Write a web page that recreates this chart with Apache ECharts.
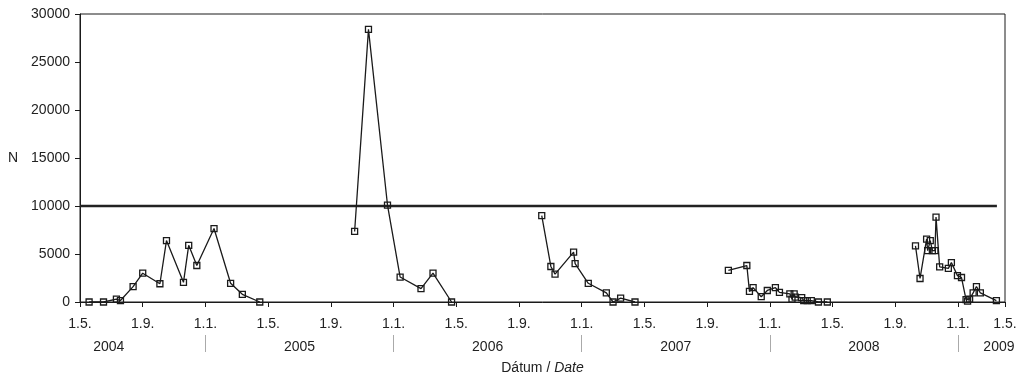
<!DOCTYPE html>
<html>
<head>
    <meta charset="utf-8">
    <script src="https://cdn.jsdelivr.net/npm/echarts@6/dist/echarts.min.js"></script>
</head>
<body style="margin:0;background:#fff;">
    <div id="main" style="width:1025px;height:377px;"></div>
    <script type="text/javascript">

    // one array pair per sampling season (the line breaks between them)
    var season2004Dates = ['2004-05-19', '2004-06-16', '2004-07-11', '2004-07-19', '2004-08-13', '2004-09-01', '2004-10-04', '2004-10-17',
        '2004-11-19', '2004-11-29', '2004-12-15', '2005-01-18', '2005-02-18', '2005-03-12', '2005-04-15'];
    var season2004Values = [0, 0, 300, 150, 1600, 3000, 1900, 6400, 2050, 5900, 3800, 7650, 1950, 800, 0];

    var season2005Dates = ['2005-10-17', '2005-11-13', '2005-12-20', '2006-01-14', '2006-02-22', '2006-03-17', '2006-04-22'];
    var season2005Values = [7350, 28400, 10100, 2600, 1400, 3000, 0];

    var season2006Dates = ['2006-10-15', '2006-11-02', '2006-11-10', '2006-12-16', '2006-12-19', '2007-01-14', '2007-02-17',
        '2007-03-01', '2007-03-16', '2007-04-13'];
    var season2006Values = [9000, 3700, 2900, 5200, 4000, 1950, 950, 0, 400, 0];

    var season2007Dates = ['2007-10-12', '2007-11-17', '2007-11-22', '2007-11-29', '2007-12-15', '2007-12-27', '2008-01-12',
        '2008-01-20', '2008-02-09', '2008-02-13', '2008-02-17', '2008-02-19', '2008-03-02', '2008-03-06', '2008-03-13',
        '2008-03-21', '2008-04-04', '2008-04-21'];
    var season2007Values = [3300, 3800, 1100, 1500, 550, 1200, 1500, 1000, 850, 300, 850, 500, 450, 150, 150, 150, 0, 0];

    var season2008Dates = ['2008-10-10', '2008-10-19', '2008-11-01', '2008-11-03', '2008-11-08', '2008-11-12', '2008-11-17',
        '2008-11-19', '2008-11-26', '2008-12-13', '2008-12-19', '2008-12-31', '2009-01-08', '2009-01-17', '2009-01-20',
        '2009-01-24', '2009-01-31', '2009-02-06', '2009-02-13', '2009-03-15'];
    var season2008Values = [5850, 2450, 6550, 5350, 6400, 5350, 5350, 8850, 3650, 3500, 4100, 2750, 2550, 250, 100, 300, 950, 1600, 950, 150];

    // 10000 limit line
    var limitValue = 10000;
    var limitDates = ['2004-05-01', '2009-03-16'];

    var tickLabels = ['1.5.', '1.9.', '1.1.', '1.5.', '1.9.', '1.1.', '1.5.', '1.9.', '1.1.', '1.5.', '1.9.', '1.1.', '1.5.', '1.9.', '1.1.', '1.5.'];
    var yearLabels = ['2004', '2005', '2006', '2007', '2008', '2009'];
    var yearLabelDates = ['2004-06-26', '2005-07-01', '2006-07-01', '2007-07-01', '2008-07-01', '2009-03-20'];
    var yearStartDates = ['2005-01-01', '2006-01-01', '2007-01-01', '2008-01-01', '2009-01-01'];

    var axisStart = '2004-05-01';
    var axisEnd = '2009-04-01';

    // months since 1.5.2004, fractional by day (the original axis is even per month)
    function monthIndex(s) {
        var p = s.split('-');
        var y = +p[0], m = +p[1], d = +p[2];
        var dim = new Date(y, m, 0).getDate();
        return (y - 2004) * 12 + (m - 5) + (d - 1) / dim;
    }

    var xMin = monthIndex(axisStart);
    var xMax = monthIndex(axisEnd);
    var font = 'Liberation Sans, Arial, sans-serif';
    var ink = '#1a1a1a';

    function seasonSeries(dates, values) {
        return {
            type: 'line',
            data: dates.map(function (d, i) { return [monthIndex(d), values[i]]; }),
            symbol: 'rect',
            symbolSize: 6,
            showSymbol: true,
            lineStyle: { color: ink, width: 1.3 },
            itemStyle: { color: 'rgba(255,255,255,0)', borderColor: ink, borderWidth: 1.3 },
            z: 3
        };
    }

    var myChart = echarts.init(document.getElementById('main'));

    myChart.setOption({
        animation: false,
        grid: {
            left: 80, right: 20, top: 14, bottom: 75,
            outerBoundsMode: 'none',
            show: true, borderColor: ink, borderWidth: 1, backgroundColor: 'transparent'
        },
        xAxis: [
            {
                type: 'value',
                min: xMin,
                max: xMax,
                interval: 4,
                axisLine: { lineStyle: { color: ink, width: 1 } },
                axisTick: { show: true, length: 5, lineStyle: { color: ink } },
                splitLine: { show: false },
                axisLabel: {
                    margin: 15,
                    color: '#222',
                    fontFamily: font,
                    fontSize: 14,
                    formatter: function (v) {
                        if (v >= xMax - 0.01) return tickLabels[tickLabels.length - 1];
                        return tickLabels[Math.round(v / 4)];
                    }
                },
                name: 'Dátum / {i|Date}',
                nameLocation: 'middle',
                nameGap: 59,
                nameTextStyle: {
                    color: '#222', fontFamily: font, fontSize: 14,
                    rich: { i: { fontStyle: 'italic', color: '#222', fontFamily: font, fontSize: 14 } }
                }
            },
            {
                // second label row: years, with separators at 1.1.
                type: 'value',
                position: 'bottom',
                offset: 33,
                min: xMin,
                max: xMax,
                axisLine: { show: false },
                axisTick: {
                    show: true,
                    length: 17,
                    customValues: yearStartDates.map(monthIndex),
                    lineStyle: { color: '#aaa', width: 1 }
                },
                splitLine: { show: false },
                axisLabel: {
                    margin: 5,
                    color: '#222',
                    fontFamily: font,
                    fontSize: 14,
                    customValues: yearLabelDates.map(monthIndex),
                    formatter: function (v) {
                        return yearLabels[Math.floor((v + 4) / 12)];
                    }
                }
            }
        ],
        yAxis: {
            type: 'value',
            min: 0,
            max: 30000,
            interval: 5000,
            axisLine: { show: true, lineStyle: { color: ink, width: 1 } },
            axisTick: { show: true, length: 5, lineStyle: { color: ink } },
            splitLine: { show: false },
            axisLabel: {
                margin: 10,
                color: '#222',
                fontFamily: font,
                fontSize: 14,
                formatter: function (v) { return String(v); }
            },
            name: 'N',
            nameLocation: 'middle',
            nameRotate: 0,
            nameGap: 62,
            nameTextStyle: { color: '#222', fontFamily: font, fontSize: 14 }
        },
        series: [
            {
                type: 'line',
                data: limitDates.map(function (d) { return [monthIndex(d), limitValue]; }),
                showSymbol: false,
                symbol: 'none',
                lineStyle: { color: '#222', width: 2.6 },
                z: 2
            },
            seasonSeries(season2004Dates, season2004Values),
            seasonSeries(season2005Dates, season2005Values),
            seasonSeries(season2006Dates, season2006Values),
            seasonSeries(season2007Dates, season2007Values),
            seasonSeries(season2008Dates, season2008Values)
        ]
    });
    </script>
</body>
</html>
